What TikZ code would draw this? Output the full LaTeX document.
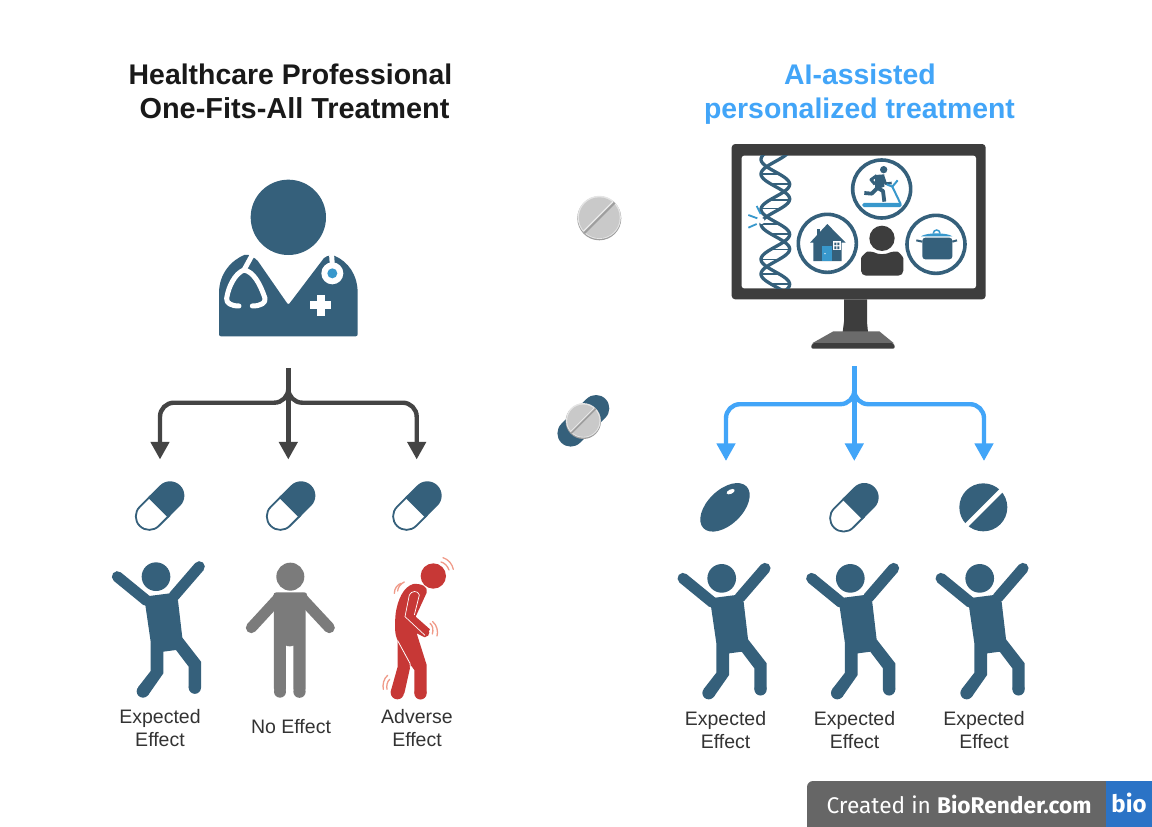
\documentclass[tikz,border=0pt]{standalone}
\usepackage{fontspec}
\setmainfont{Liberation Sans}
\newfontfamily\badgefont{Fira Sans}
\usetikzlibrary{arrows.meta}
\definecolor{teal}{HTML}{35607B}
\definecolor{lblue}{HTML}{3898CC}
\definecolor{sky}{HTML}{42A5F8}
\definecolor{ink}{HTML}{444444}
\definecolor{mon}{HTML}{3D3D3D}
\definecolor{redf}{HTML}{C73836}
\definecolor{wav}{HTML}{F09A88}
\definecolor{grayf}{HTML}{7B7B7B}
\definecolor{pillg}{HTML}{C9C9C9}
\definecolor{bioblue}{HTML}{2B73C6}
\tikzset{
  titleA/.style={font=\bfseries\fontsize{28.4}{30}\selectfont,text=black!90,inner sep=0pt},
  titleB/.style={font=\bfseries\fontsize{28.4}{30}\selectfont,text=sky,inner sep=0pt},
  lab/.style={font=\fontsize{19.5}{22}\selectfont,text=black!80,inner sep=0pt,anchor=base},
  conn/.style={line width=4.4pt,rounded corners=14pt,-{Triangle[length=17.6pt,width=18pt]}},
  wave/.style={draw=wav,line width=1.3pt,line cap=round},
}
% all icons below use zoom coordinates (3 units = 1 px)
\newcommand{\happyfig}[1]{\begin{scope}[shift={(#1)},scale=1/3]
  \fill[teal] (168,320) circle[radius=43];
  \draw[teal,line width=11pt,line cap=round] (52,320) -- (140,392);
  \draw[teal,line width=11pt,line cap=round] (298,290) -- (222,378);
  \fill[teal] (148,378) -- (210,370) -- (234,392) -- (247,503) -- (303,575) -- (303,653) -- (266,653) -- (266,590) -- (228,540) -- (190,545) -- (190,610) -- (144,676) -- (114,652) -- (152,603) -- (152,515) -- (136,405) -- cycle;
  \fill[teal] (284.5,653) circle[radius=18.5] (129,664) circle[radius=19];
\end{scope}}
\newcommand{\capsule}[1]{\begin{scope}[shift={(#1)},scale=1/3]
  \begin{scope}[shift={(179,108)},rotate=45]
    \draw[teal,line width=1.8pt,fill=white] (0,-40.5) -- (-44,-40.5) arc[start angle=-90,end angle=-270,radius=40.5] -- (0,40.5) -- cycle;
    \fill[teal] (-7,-43) -- (44,-43) arc[start angle=-90,end angle=90,radius=43] -- (-7,43) -- cycle;
  \end{scope}
\end{scope}}
\newcommand{\greypill}[3]{\begin{scope}[shift={(#1)}]
  \fill[white!62!black] (0,0.6) circle[radius=#2];
  \fill[black!10] (0,-0.3) circle[radius=#2-0.4];
  \fill[pillg] (0,0) circle[radius=#2-1.6];
  \draw[black!38,line width=#3] (-0.69*#2,0.69*#2) -- (0.69*#2,-0.69*#2);
  \draw[black!8,line width=0.45*#3] (-0.72*#2,0.62*#2) -- (0.62*#2,-0.72*#2);
\end{scope}}
\begin{document}
\begin{tikzpicture}[x=1pt,y=-1pt]
\useasboundingbox (0,0) rectangle (1152,827);
\fill[white] (0,0) rectangle (1152,827);
% titles
\node[titleA,anchor=base] (t1) at (290.5,84.5) {Healthcare Professional};
\node[titleA,anchor=base,font=\bfseries\fontsize{28.9}{30}\selectfont] (t2) at (294.5,118) {One-Fits-All Treatment};
\node[titleB,anchor=base] (t3) at (860,84.5) {AI-assisted};
\node[titleB,anchor=base] (t4) at (859.5,118) {personalized treatment};
% doctor
\begin{scope}[shift={(200,170)},scale=1/3]
  \fill[teal] (265,142) circle[radius=113];
  \fill[teal,rounded corners=2pt] (57,499) -- (57,375) .. controls (57,310) and (95,270) .. (140,252) -- (170,268) -- (265,405) -- (375,260) -- (398,255) .. controls (445,275) and (473,315) .. (473,375) -- (473,499) -- cycle;
  \draw[white,line width=5pt,line cap=round,line join=round] (155,258) -- (132,300);
  \draw[white,line width=5pt,line cap=round,line join=round] (117,408) .. controls (95,408) and (78,400) .. (80,385) .. controls (85,350) and (105,310) .. (132,300) .. controls (160,305) and (180,340) .. (195,385) .. controls (198,400) and (180,408) .. (157,408);
  \draw[white,line width=5pt,line cap=round] (395,258) -- (397,285);
  \fill[white] (397,310) circle[radius=33];
  \fill[lblue] (397,310) circle[radius=15];
  \fill[white] (350,375) rectangle (374,438);
  \fill[white] (331,394) rectangle (394,418);
\end{scope}
% monitor
\begin{scope}[shift={(720,135)},scale=1/3]
  \fill[mon,rounded corners=3.5pt] (35,27) rectangle (797,493);
  \fill[mon] (372,493) -- (441,493) -- (441,560) -- (444,592) -- (368,592) -- (372,560) -- cycle;
  \fill[black!58] (340,589) -- (478,589) -- (522,625) -- (276,625) -- cycle;
  \fill[mon,rounded corners=2pt] (276,624) -- (522,624) -- (525,641) -- (273,641) -- cycle;
  \fill[white,rounded corners=2.5pt] (65,62) rectangle (768,460);
  % DNA
  \begin{scope}
    \clip (65,62) rectangle (768,460);
    \begin{scope}[shift={(75,45)}]
      \foreach \yy in {72,102,150,175,222,252,298,328,372,402}{
        \draw[teal,line width=1.5pt] ({91-43*cos((\yy-28)/150*360)},\yy) -- ({91-43*cos((\yy-72)/150*360)},\yy);}
      \foreach \ph in {28,72}{
        \draw[teal,line width=3.3pt,domain=0:426,samples=110,variable=\t,smooth] plot ({91-43*cos((\t-\ph)/150*360)},{\t});
      }
      \fill[white] (50,213) circle[radius=9];
    \end{scope}
  \end{scope}
  \begin{scope}[shift={(75,45)}]
    \draw[lblue,line width=1.8pt] (35,168) -- (47,192) (10,195) -- (37,205) (10,233) -- (35,222);
  \end{scope}
  % person
  \begin{scope}[shift={(225,60)}]
    \fill[mon] (261,250) circle[radius=38];
    \fill[mon,rounded corners=5pt] (198,362) -- (198,325) .. controls (198,305) and (215,290) .. (232,288) .. controls (250,298) and (272,298) .. (292,288) .. controls (310,290) and (325,305) .. (325,325) -- (325,362) -- cycle;
    % circles
    \draw[teal,line width=3.6pt] (260,102) circle[radius=87] (97,265) circle[radius=87] (423,268) circle[radius=87];
    % runner
    \fill[teal] (266,44) circle[radius=11];
    \fill[teal] (240,60) -- (268,58) -- (268,95) -- (240,105) -- cycle;
    \draw[teal,line width=3.8pt,line join=round] (250,100) -- (264,108) -- (268,140);
    \draw[teal,line width=3.8pt,line join=round] (248,98) -- (230,116) -- (208,114);
    \draw[teal,line width=3pt,line join=round] (245,62) -- (228,74) -- (240,88);
    \draw[teal,line width=2.6pt,line join=round] (265,65) -- (272,86) -- (290,84);
    \draw[lblue,line width=2pt,line join=round] (317,147) -- (292,95) -- (308,76) (275,88) -- (292,95);
    \draw[lblue,line width=1.4pt,fill=lblue,rounded corners=1.2pt] (204,146) rectangle (318,154);
    % house
    \fill[teal] (65,222) rectangle (76,250);
    \fill[teal] (97,207) -- (152,263) -- (140,263) -- (140,318) -- (55,318) -- (55,263) -- (45,263) -- cycle;
    \fill[lblue] (82,272) rectangle (110,318);
    \fill[white] (90,296) circle[radius=2.2];
    \fill[white] (114,259) rectangle (137,286);
    \fill[teal] (118,263) rectangle (124,270) (127,263) rectangle (133,270) (118,274) rectangle (124,282) (127,274) rectangle (133,282);
    % pot
    \draw[lblue,line width=1.5pt] (415,235) arc[start angle=180,end angle=360,radius=10];
    \fill[lblue] (378,244) .. controls (395,232) and (455,232) .. (472,244) -- cycle;
    \fill[teal,rounded corners=3pt] (382,248) -- (472,248) -- (472,313) -- (382,313) -- cycle;
    \draw[teal,line width=2pt] (364,256) -- (382,260) (472,260) -- (486,256);
  \end{scope}
\end{scope}
% connectors, left
\coordinate (lroot) at (288.3,368);
\coordinate (lbar) at (288.3,402.7);
\coordinate (la) at (160,459.5);
\coordinate (lb) at (288.3,459.5);
\coordinate (lc) at (416.7,459.5);
\draw[conn,draw=ink] (lroot) -- (lbar) -| (la);
\draw[conn,draw=ink] (lroot) -- (lbar) -| (lc);
\draw[conn,draw=ink] (lroot) -- (lb);
% connectors, right
\coordinate (rroot) at (854.3,366);
\coordinate (rbar) at (854.3,404.2);
\coordinate (ra) at (726,461);
\coordinate (rb) at (854.3,461);
\coordinate (rc) at (984,461);
\draw[conn,draw=sky] (rroot) -- (rbar) -| (ra);
\draw[conn,draw=sky] (rroot) -- (rbar) -| (rc);
\draw[conn,draw=sky] (rroot) -- (rb);
% grey pills
\greypill{599.3,217.7}{22}{2.6pt}
\draw[teal,line width=26.6pt,line cap=round] (570.7,433.3) -- (596,408.3);
\greypill{583.3,420.7}{17.7}{2.2pt}
% capsules
\capsule{100,470}
\capsule{231,470}
\capsule{357.3,470}
\capsule{794.3,471.7}
% oval pill and tablet
\begin{scope}[shift={(670,470)},scale=1/3]
  \fill[teal] (165,112) ellipse[x radius=90,y radius=52,rotate=44];
  \fill[white] (182,65) ellipse[x radius=13,y radius=6.5,rotate=25];
  \fill[teal] (940,112) circle[radius=72];
  \draw[white,line width=4.4pt] (885,170) -- (1000,55);
\end{scope}
% people left
\happyfig{100,470}
\begin{scope}[shift={(100,470)},scale=1/3]
  \fill[grayf] (571,320) circle[radius=42];
  \draw[grayf,line width=11pt,line cap=round] (535,385) -- (454,473);
  \draw[grayf,line width=11pt,line cap=round] (606,385) -- (688,473);
  \fill[grayf,rounded corners=3pt] (520,367) -- (622,367) -- (617,420) -- (617,665) -- (580,665) -- (580,535) .. controls (580,530) and (558,530) .. (558,535) -- (558,665) -- (522,665) -- (522,420) -- cycle;
  \fill[grayf] (540,665) circle[radius=18] (598.5,665) circle[radius=18.5];
\end{scope}
% red person
\begin{scope}[shift={(375,550)},scale=1/3]
  \fill[redf] (175,78) circle[radius=38];
  \fill[redf] (115,102) .. controls (140,100) and (160,110) .. (155,128) -- (122,200) -- (165,238) -- (150,262) -- (125,250) -- (155,345) -- (155,430) -- (118,430) -- (118,360) -- (107,345) -- (88,430) -- (47,425) -- (68,350) -- (68,272) .. controls (60,255) and (58,235) .. (62,190) .. controls (68,150) and (85,110) .. (115,102) -- cycle;
  \fill[redf] (136.5,430) circle[radius=18.5] (67,428) circle[radius=20] (150,248) circle[radius=13];
  \draw[white,line width=0.7pt,line join=round] (150,256) -- (90,200) -- (103,135) .. controls (108,122) and (130,120) .. (133,135) -- (118,195);
  \draw[white,line width=0.8pt,line join=round] (68,272) -- (105,340) -- (107,362);
  \draw[wave] (198,36) .. controls (208,38) and (218,48) .. (222,60);
  \draw[wave] (204,23) .. controls (220,28) and (232,42) .. (235,58);
  \draw[wave] (58,130) .. controls (58,115) and (68,103) .. (78,100);
  \draw[wave] (68,123) .. controls (68,112) and (78,100) .. (88,96);
  \draw[wave] (165,220) .. controls (173,225) and (176,240) .. (172,252);
  \draw[wave] (173,215) .. controls (186,225) and (190,245) .. (186,258);
  \draw[wave] (38,376) .. controls (26,385) and (22,405) .. (25,418);
  \draw[wave] (44,388) .. controls (36,395) and (34,408) .. (36,418);
\end{scope}
% people right
\happyfig{665.7,471.7}
\happyfig{794.3,471.7}
\happyfig{923.7,471.7}
% labels
\node[lab] (l1a) at (160,723) {Expected};
\node[lab] (l1b) at (160,746) {Effect};
\node[lab] (l2) at (291,733) {No Effect};
\node[lab] (l3a) at (417,723) {Adverse};
\node[lab] (l3b) at (417,746) {Effect};
\node[lab] (r1a) at (725.5,725) {Expected};
\node[lab] (r1b) at (725.5,748) {Effect};
\node[lab] (r2a) at (854.5,725) {Expected};
\node[lab] (r2b) at (854.5,748) {Effect};
\node[lab] (r3a) at (984,725) {Expected};
\node[lab] (r3b) at (984,748) {Effect};
% badge
\fill[black!60,rounded corners=6pt] (1115,781) -- (807,781) -- (807,840) -- (1115,840) -- cycle;
\fill[white] (800,827) rectangle (1152,845);
\fill[bioblue] (1106,781) rectangle (1152,827);
\node[inner sep=0pt,anchor=base,text=white,font=\badgefont\fontsize{22.7}{24}\selectfont] (bd) at (959,813) {Created in \textbf{BioRender.com}};
\node[inner sep=0pt,anchor=base,text=white,font=\badgefont\bfseries\fontsize{24}{24}\selectfont] (bb) at (1129,812) {bio};
\end{tikzpicture}
\end{document}
